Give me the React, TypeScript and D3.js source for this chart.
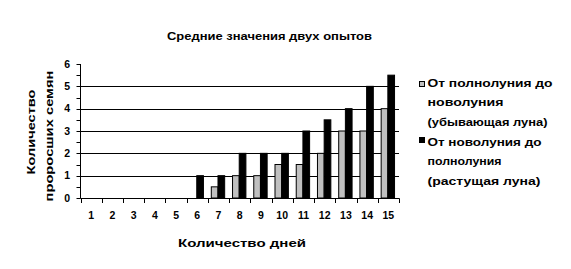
import React from "react";
import * as d3 from "d3";

const days = ["1","2","3","4","5","6","7","8","9","10","11","12","13","14","15"];
const waning = [0,0,0,0,0,0,0.5,1,1,1.5,1.5,2,3,3,4];
const waxing = [0,0,0,0,0,1,1,2,2,2,3,3.5,4,5,5.5];
const seriesNames = [
  ["От полнолуния до", "новолуния", "(убывающая луна)"],
  ["От новолуния до", "полнолуния", "(растущая луна)"],
];
const yTicks = [0,1,2,3,4,5,6];
const title = "Средние значения двух опытов";
const xTitle = "Количество дней";
const yTitle = ["Количество", "проросших семян"];

const W = 571, H = 269;
const FONT = "'Liberation Sans', Arial, sans-serif";

export default function App() {
  const x0 = d3.scaleBand<string>().domain(days).range([80.5, 399]).padding(0);
  const bw = x0.bandwidth();
  const x1 = d3.scaleBand<number>().domain([0, 1]).range([bw * 0.16, bw * 0.79]).padding(0);
  const y = d3.scaleLinear().domain([0, 6]).range([198, 64]);
  const colors = ["#c0c0c0", "#000000"];
  const series = [waning, waxing];
  const halfTicks = d3.range(0, 6.01, 0.5);
  const legendLines = [
    [86.5, 106, 125.5],
    [145.5, 165, 184.5],
  ];
  const legendWidths = [[125, 76, 120], [114, 74, 113]];
  const legendSq = [81, 137];

  return (
    <svg width={W} height={H} style={{ position: "absolute", left: 0, top: 0, background: "#fff" }}>
      <rect width={W} height={H} fill="#fff" />
      <text x={269.5} y={40} textAnchor="middle" fontFamily={FONT} fontWeight="bold" fontSize={10.5}
        textLength={205} lengthAdjust="spacingAndGlyphs">{title}</text>

      {/* gridlines */}
      {yTicks.filter(t => t > 0 && t < 6).map(t => (
        <line key={t} x1={80.5} x2={399} y1={Math.round(y(t)) + 0.5} y2={Math.round(y(t)) + 0.5} stroke="#000" />
      ))}

      {/* bars */}
      {series.map((s, si) => s.map((v, i) => v > 0 ? (
        <rect key={si + "-" + i}
          x={(x0(days[i]) as number) + (x1(si) as number)}
          y={y(v)} width={x1.bandwidth()} height={y(0) - y(v)}
          fill={colors[si]} stroke="#000" strokeWidth={1} />
      ) : null))}

      {/* axes */}
      <line x1={80.5} x2={80.5} y1={64} y2={198.5} stroke="#000" />
      <line x1={80.5} x2={399.5} y1={198.5} y2={198.5} stroke="#000" />
      {halfTicks.map(t => (
        <line key={"yt" + t} x1={76.5} x2={80.5} y1={Math.round(y(t)) + 0.5} y2={Math.round(y(t)) + 0.5} stroke="#000" />
      ))}
      {[...days.map(d => x0(d) as number), 399].map((xv, i) => (
        <line key={"xt" + i} x1={Math.round(xv) + 0.5} x2={Math.round(xv) + 0.5} y1={198.5} y2={203} stroke="#000" />
      ))}
      {yTicks.map(t => (
        <text key={"yl" + t} x={70} y={y(t) + 3.7} textAnchor="end" fontFamily={FONT} fontWeight="bold" fontSize={10.5}>{t}</text>
      ))}
      {days.map(d => (
        <text key={"xl" + d} x={(x0(d) as number) + bw / 2} y={219} textAnchor="middle" fontFamily={FONT} fontWeight="bold" fontSize={10.5}>{d}</text>
      ))}
      <text x={242} y={246.5} textAnchor="middle" fontFamily={FONT} fontWeight="bold" fontSize={11.5}
        textLength={128} lengthAdjust="spacingAndGlyphs">{xTitle}</text>

      <text transform="translate(35,132) rotate(-90)" textAnchor="middle" fontFamily={FONT} fontWeight="bold" fontSize={11.5}
        textLength={85} lengthAdjust="spacingAndGlyphs">{yTitle[0]}</text>
      <text transform="translate(53,136) rotate(-90)" textAnchor="middle" fontFamily={FONT} fontWeight="bold" fontSize={11.5}
        textLength={131} lengthAdjust="spacingAndGlyphs">{yTitle[1]}</text>

      {/* legend */}
      {seriesNames.map((lines, si) => (
        <g key={"lg" + si}>
          <rect x={419.5} y={legendSq[si] + 0.5} width={5} height={5} fill={colors[si]} stroke="#000" />
          {lines.map((ln, li) => (
            <text key={li} x={427.5} y={legendLines[si][li]} fontFamily={FONT} fontWeight="bold" fontSize={11.5}
              textLength={legendWidths[si][li]} lengthAdjust="spacingAndGlyphs">{ln}</text>
          ))}
        </g>
      ))}
    </svg>
  );
}
